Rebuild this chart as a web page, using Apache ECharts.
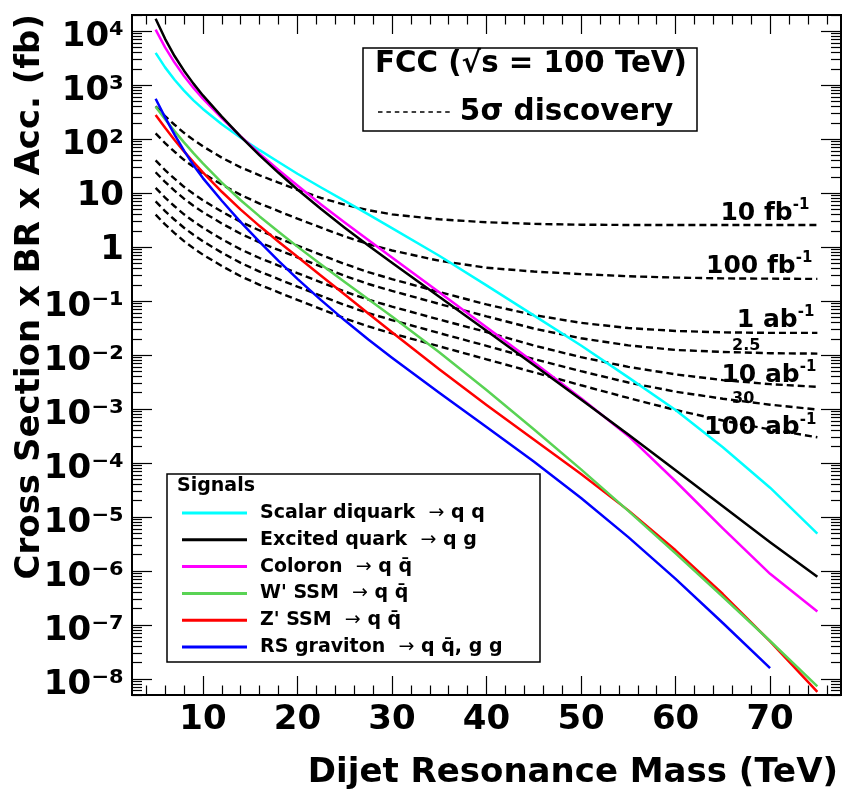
<!DOCTYPE html>
<html>
<head>
<meta charset="utf-8">
<title>Dijet resonance reach at FCC</title>
<script src="https://cdn.jsdelivr.net/npm/echarts@6.0.0/dist/echarts.min.js"></script>
<style>
  html, body { margin: 0; padding: 0; background: #ffffff; }
  #chart { width: 844px; height: 794px; }
</style>
</head>
<body>
<div id="chart"></div>
<script>
// Resonance mass grid (TeV) shared by the curves
const massTeV = [5, 6, 7, 8, 9, 10, 12, 14, 16, 18, 20, 22.5, 25, 27.5, 30, 35, 40, 45, 50, 55, 60, 65, 70, 75];

// Signal cross section x BR x acceptance (fb)
const scalarDiquark = [3980, 2140, 1260, 794, 525, 363, 189, 106, 62.5, 37.8, 22.9, 12.7, 7.16, 4.03, 2.24, 0.692, 0.195, 0.0543, 0.0150, 3.85e-3, 9.55e-4, 1.95e-4, 3.47e-5, 4.90e-6];
const excitedQuark  = [1.70e4, 7240, 3470, 1860, 1070, 646, 261, 111, 50.1, 23.8, 11.7, 5.07, 2.29, 1.07, 0.513, 0.120, 0.0282, 6.53e-3, 1.50e-3, 3.35e-4, 7.33e-5, 1.57e-5, 3.39e-6, 7.76e-7];
const coloron       = [1.07e4, 5010, 2630, 1480, 891, 562, 245, 112, 53.7, 26.9, 13.8, 6.17, 2.85, 1.35, 0.638, 0.145, 0.0327, 7.33e-3, 1.58e-3, 3.16e-4, 4.57e-5, 6.10e-6, 8.81e-7, 1.76e-7];
const wPrimeSSM     = [398, 234, 141, 87.1, 55.0, 35.5, 15.6, 7.38, 3.70, 1.92, 1.02, 0.476, 0.225, 0.108, 0.0516, 0.0112, 2.24e-3, 4.22e-4, 7.59e-5, 1.29e-5, 2.11e-6, 3.31e-7, 5.01e-8, 7.24e-9];
const zPrimeSSM     = [281, 162, 96.4, 59.4, 37.5, 24.2, 10.6, 4.94, 2.45, 1.26, 0.661, 0.295, 0.132, 0.0589, 0.0263, 5.43e-3, 1.19e-3, 2.72e-4, 6.24e-5, 1.32e-5, 2.40e-6, 3.72e-7, 4.95e-8, 5.69e-9];
const rsGraviton    = [560, 253, 121, 61.4, 33.0, 19.0, 7.22, 2.91, 1.25, 0.555, 0.258, 0.104, 0.0439, 0.0194, 8.91e-3, 2.00e-3, 4.62e-4, 1.06e-4, 2.24e-5, 4.22e-6, 7.08e-7, 1.08e-7, 1.57e-8];

// 5 sigma discovery reach (fb) for each integrated luminosity
const reach10fb   = [405, 267, 185, 131, 97.0, 73.6, 45.4, 30.0, 21.4, 15.7, 11.5, 8.13, 6.10, 4.84, 4.03, 3.27, 2.88, 2.69, 2.60, 2.57, 2.57, 2.57, 2.57, 2.57];
const reach100fb  = [128, 84.5, 58.5, 41.4, 30.7, 23.3, 14.4, 9.27, 6.41, 4.65, 3.37, 2.30, 1.57, 1.14, 0.865, 0.558, 0.414, 0.352, 0.316, 0.288, 0.272, 0.263, 0.260, 0.257];
const reach1ab    = [40.5, 26.7, 18.5, 13.1, 9.70, 7.36, 4.54, 2.93, 2.03, 1.47, 1.06, 0.719, 0.486, 0.344, 0.255, 0.147, 0.0865, 0.0550, 0.0394, 0.0316, 0.0279, 0.0263, 0.0257, 0.0257];
const reach2p5ab  = [24.4, 16.1, 11.1, 7.89, 5.85, 4.44, 2.74, 1.77, 1.22, 0.885, 0.641, 0.434, 0.293, 0.207, 0.154, 0.0885, 0.0521, 0.0309, 0.0204, 0.0151, 0.0124, 0.0114, 0.0108, 0.0106];
const reach10ab   = [12.5, 8.26, 5.71, 4.05, 3.00, 2.28, 1.40, 0.906, 0.627, 0.454, 0.329, 0.222, 0.150, 0.106, 0.0789, 0.0454, 0.0267, 0.0150, 9.12e-3, 6.03e-3, 4.37e-3, 3.43e-3, 2.88e-3, 2.57e-3];
const reach30ab   = [7.03, 4.65, 3.21, 2.28, 1.69, 1.28, 0.789, 0.509, 0.352, 0.255, 0.185, 0.125, 0.0845, 0.0598, 0.0444, 0.0255, 0.0148, 8.41e-3, 5.01e-3, 3.09e-3, 2.09e-3, 1.55e-3, 1.20e-3, 9.77e-4];
const reach100ab  = [3.98, 2.63, 1.82, 1.29, 0.955, 0.724, 0.447, 0.288, 0.200, 0.145, 0.105, 0.0708, 0.0479, 0.0339, 0.0251, 0.0145, 8.32e-3, 4.79e-3, 2.75e-3, 1.60e-3, 9.55e-4, 6.10e-4, 4.17e-4, 2.99e-4];

// Luminosity tags and the mass at which each one sits on its curve
const reachTags   = ['{b|10 fb}{s|-1}', '{b|100 fb}{s|-1}', '{b|1 ab}{s|-1}', '{n|2.5}', '{b|10 ab}{s|-1}', '{n|30}', '{b|100 ab}{s|-1}'];
const reachTagAt  = [75, 75, 75, 70, 75, 70, 75];

// Axis ticks
const xMajorTicks = [10, 20, 30, 40, 50, 60, 70];
const yDecades = [1e-8, 1e-7, 1e-6, 1e-5, 1e-4, 1e-3, 1e-2, 1e-1, 1, 10, 100, 1e3, 1e4];

const X_MIN = 2.5, X_MAX = 77.5, Y_MIN = 5e-9, Y_MAX = 2e4;
const FONT = 'DejaVu Sans';
const SUP = { '0': '⁰', '1': '¹', '2': '²', '3': '³', '4': '⁴', '5': '⁵', '6': '⁶', '7': '⁷', '8': '⁸', '9': '⁹', '-': '⁻' };

const xMinorTicks = [];
for (let m = 4; m <= 76; m += 2) if (m % 10 !== 0) xMinorTicks.push(m);
const yMinorTicks = [];
for (let e = -9; e <= 4; e++) {
  for (let k = 2; k <= 9; k++) {
    const v = k * Math.pow(10, e);
    if (v >= Y_MIN && v <= Y_MAX) yMinorTicks.push(v);
  }
}

const reachCurves = [reach10fb, reach100fb, reach1ab, reach2p5ab, reach10ab, reach30ab, reach100ab];

const signals = [
  { name: 'Scalar diquark → q q',          color: '#00ffff', values: scalarDiquark, z: 3 },
  { name: 'Excited quark → q g',           color: '#000000', values: excitedQuark,  z: 5 },
  { name: 'Coloron → q q\u0304',           color: '#ff00ff', values: coloron,       z: 4 },
  { name: 'W\' SSM → q q\u0304',           color: '#59d354', values: wPrimeSSM,     z: 7 },
  { name: 'Z\' SSM → q q\u0304',           color: '#ff0000', values: zPrimeSSM,     z: 6 },
  { name: 'RS graviton → q q\u0304, g g',  color: '#0000ff', values: rsGraviton,    z: 8 }
];

const pairs = ys => ys.map((y, i) => [massTeV[i], y]);

// Placement of the luminosity tags (pixels relative to the anchor point)
const tagStyle = [
  { align: 'right', offset: [-8, 1] },
  { align: 'right', offset: [-5, 0] },
  { align: 'right', offset: [-3, 0] },
  { align: 'left',  offset: [-38, 2] },
  { align: 'right', offset: [-1, 1] },
  { align: 'left',  offset: [-38, 3] },
  { align: 'right', offset: [-1, 3] }
];

const boldText = (size, extra) => Object.assign({
  fontFamily: FONT, fontWeight: 'bold', fontSize: size, color: '#000',
  textBorderWidth: 0, textShadowBlur: 0
}, extra || {});

// Decade labels: 1, 10 and powers of ten with superscript exponents
function decadeLabel(v) {
  const e = Math.round(Math.log10(v));
  if (e === 0) return '{p|1}';
  if (e === 1) return '{p|10}';
  return '{e|10' + String(e).split('').map(c => SUP[c]).join('') + '}';
}

function xAxisDef(position, ticks, len, withLabels) {
  return {
    type: 'value', gridIndex: 0, position: position, offset: 0,
    min: X_MIN, max: X_MAX,
    axisLine: { show: true, onZero: false, lineStyle: { color: '#000', width: 2 } },
    axisTick: { show: true, inside: true, length: len, customValues: ticks, lineStyle: { color: '#000', width: 1.2 } },
    axisLabel: withLabels ? Object.assign(boldText(34, { lineHeight: 34 }), { show: true, margin: 8, customValues: xMajorTicks }) : { show: false },
    splitLine: { show: false }, minorTick: { show: false }, minorSplitLine: { show: false }
  };
}

function yAxisDef(position, ticks, len, withLabels) {
  return {
    type: 'log', logBase: 10, gridIndex: 0, position: position, offset: 0,
    min: Y_MIN, max: Y_MAX,
    axisLine: { show: true, onZero: false, lineStyle: { color: '#000', width: 2 } },
    axisTick: { show: true, inside: true, length: len, customValues: ticks, lineStyle: { color: '#000', width: 1.2 } },
    axisLabel: withLabels ? Object.assign(boldText(34), {
      show: true, margin: 8, customValues: yDecades, formatter: decadeLabel, verticalAlign: 'top',
      rich: {
        e: boldText(34, { lineHeight: 12 }),
        p: boldText(34, { lineHeight: 7 })
      }
    }) : { show: false },
    splitLine: { show: false }, minorTick: { show: false }, minorSplitLine: { show: false }
  };
}

const legendRich = {
  t: boldText(19, { lineHeight: 22 }),
  a: { fontFamily: FONT, fontWeight: 'normal', fontSize: 19, lineHeight: 22, color: '#000' },
  g: { width: 8, lineHeight: 22 }
};

const series = [];
reachCurves.forEach(vals => {
  series.push({
    type: 'line', name: '5σ discovery', data: pairs(vals),
    xAxisIndex: 0, yAxisIndex: 0, symbol: 'none', smooth: false,
    color: '#000', lineStyle: { color: '#000', width: 2.4, type: [7, 4] },
    silent: true, z: 2
  });
});
signals.forEach(s => {
  series.push({
    type: 'line', name: s.name, data: pairs(s.values),
    xAxisIndex: 0, yAxisIndex: 0, symbol: 'none', smooth: false,
    color: s.color, lineStyle: { color: s.color, width: 2.5, join: 'round' },
    silent: true, z: s.z
  });
});
// Luminosity tags attached to the reach curves
series.push({
  type: 'scatter', name: 'luminosity', xAxisIndex: 0, yAxisIndex: 0,
  symbol: 'circle', symbolSize: 1, itemStyle: { color: 'rgba(0,0,0,0)', opacity: 1 }, silent: true, z: 9,
  label: {
    show: true, position: 'inside', verticalAlign: 'bottom', color: '#000', opacity: 1,
    textBorderWidth: 0, textBorderColor: 'transparent',
    rich: {
      b: boldText(25, { lineHeight: 28, padding: [6, 0, 0, 0], verticalAlign: 'bottom' }),
      s: boldText(15, { lineHeight: 16, verticalAlign: 'top' }),
      n: boldText(16, { lineHeight: 18 })
    }
  },
  data: reachCurves.map((vals, i) => ({
    value: [reachTagAt[i], vals[massTeV.indexOf(reachTagAt[i])]],
    label: { formatter: reachTags[i], align: tagStyle[i].align, offset: tagStyle[i].offset }
  }))
});

const chart = echarts.init(document.getElementById('chart'), null, { renderer: 'canvas', width: 844, height: 794 });

chart.setOption({
  animation: false,
  backgroundColor: '#ffffff',
  grid: { left: 132, right: 3, top: 15, bottom: 99, containLabel: false, outerBoundsMode: 'none' },
  xAxis: [
    xAxisDef('bottom', xMajorTicks, 19, true),
    xAxisDef('bottom', xMinorTicks, 9.5, false),
    xAxisDef('top', xMajorTicks, 19, false),
    xAxisDef('top', xMinorTicks, 9.5, false)
  ],
  yAxis: [
    yAxisDef('left', yDecades, 20, true),
    yAxisDef('left', yMinorTicks, 10, false),
    yAxisDef('right', yDecades, 20, false),
    yAxisDef('right', yMinorTicks, 10, false)
  ],
  legend: [
    {
      data: signals.map(s => s.name), orient: 'vertical', left: 182, top: 502, padding: 0,
      itemWidth: 65, itemHeight: 3, itemGap: 4.8, icon: 'rect', selectedMode: false, z: 12,
      itemStyle: { borderWidth: 0 },
      textStyle: boldText(19, { lineHeight: 22, rich: legendRich }),
      formatter: name => {
        const parts = name.split('→');
        return '{g|}{t|' + parts[0] + ' }{a|→}{t|' + parts[1] + '}';
      }
    },
    {
      data: ['5σ discovery'], orient: 'vertical', left: 378, top: 97, padding: 0,
      itemWidth: 72, itemHeight: 1.6, selectedMode: false, z: 12,
      icon: 'path://M0,0h4.5v1.6h-4.5zM8.4,0h4.5v1.6h-4.5zM16.8,0h4.5v1.6h-4.5zM25.2,0h4.5v1.6h-4.5zM33.6,0h4.5v1.6h-4.5zM42,0h4.5v1.6h-4.5zM50.4,0h4.5v1.6h-4.5zM58.8,0h4.5v1.6h-4.5zM67.2,0h4.5v1.6h-4.5z',
      itemStyle: { borderWidth: 0 },
      textStyle: boldText(29.5, { lineHeight: 30, rich: { g: { width: 5, lineHeight: 30 }, t: boldText(29.5, { lineHeight: 30 }) } }),
      formatter: name => '{g|}{t|' + name + '}'
    }
  ],
  graphic: [
    { type: 'rect', z: 10, shape: { x: 363, y: 48, width: 334, height: 83 }, style: { fill: '#fff', stroke: '#000', lineWidth: 1.5 } },
    { type: 'text', z: 11, x: 375, y: 64, style: Object.assign(boldText(29.3), { text: 'FCC (√s = 100 TeV)', fill: '#000', verticalAlign: 'middle', align: 'left' }) },
    { type: 'rect', z: 10, shape: { x: 167, y: 474, width: 373, height: 188 }, style: { fill: '#fff', stroke: '#000', lineWidth: 1.5 } },
    { type: 'text', z: 11, x: 177, y: 486, style: Object.assign(boldText(19), { text: 'Signals', fill: '#000', verticalAlign: 'middle', align: 'left' }) },
    { type: 'text', z: 11, x: 838, y: 773, style: Object.assign(boldText(34), { text: 'Dijet Resonance Mass (TeV)', fill: '#000', verticalAlign: 'middle', align: 'right' }) },
    { type: 'text', z: 11, x: 30, y: 14, rotation: Math.PI / 2, style: Object.assign(boldText(34), { text: 'Cross Section x BR x Acc. (fb)', fill: '#000', verticalAlign: 'middle', align: 'right' }) }
  ],
  series: series
});
</script>
</body>
</html>
